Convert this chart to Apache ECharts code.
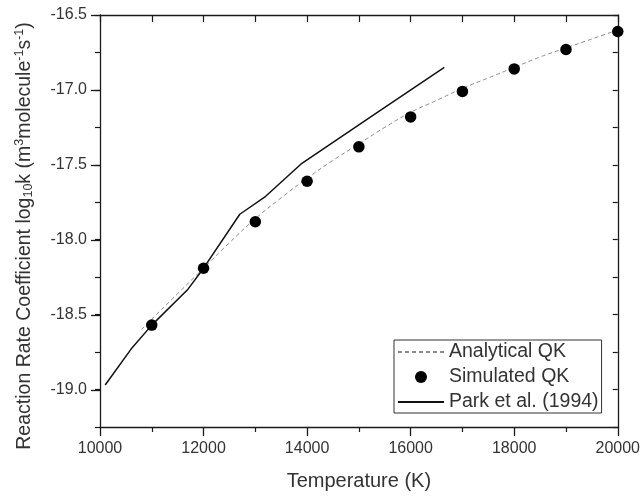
<!DOCTYPE html>
<html><head><meta charset="utf-8">
<script src="https://cdn.jsdelivr.net/npm/echarts@6/dist/echarts.min.js"></script>
<style>html,body{margin:0;padding:0;background:#fff}#c{width:643px;height:496px}</style>
</head><body><div id="c"></div>
<script>
// Simulated QK (points)
const simT = [11000, 12000, 13000, 14000, 15000, 16000, 17000, 18000, 19000, 20000];
const simK = [-18.57, -18.19, -17.88, -17.61, -17.38, -17.18, -17.01, -16.86, -16.73, -16.61];
// Analytical QK (dashed curve)
const anaT = [10800, 11000, 11500, 12000, 12500, 13000, 13500, 14000, 14500, 15000, 15500, 16000, 16500, 17000, 17500, 18000, 18500, 19000, 19500, 20000];
const anaK = [-18.60, -18.53, -18.36, -18.19, -18.02, -17.86, -17.72, -17.59, -17.47, -17.36, -17.25, -17.15, -17.07, -16.99, -16.92, -16.85, -16.78, -16.72, -16.66, -16.60];
// Park et al. (1994) (solid line)
const parkT = [10100, 10600, 11000, 11700, 12000, 12700, 13200, 13900, 15400, 16650];
const parkK = [-18.97, -18.73, -18.57, -18.33, -18.19, -17.83, -17.71, -17.49, -17.14, -16.85];
// Tick labels
const xTicks = [10000, 12000, 14000, 16000, 18000, 20000];
const yTicks = [-19.0, -18.5, -18.0, -17.5, -17.0, -16.5];

const F = '"Liberation Sans", Arial, Helvetica, sans-serif';
const AX = '#1a1a1a';
const TXT = '#333';
const zip = (a, b) => a.map((v, i) => [v, b[i]]);
const noSym = {color: 'rgba(0,0,0,0)', borderWidth: 0, opacity: 0};

const chart = echarts.init(document.getElementById('c'), null, {renderer: 'canvas'});
chart.setOption({
  animation: false,
  backgroundColor: '#fff',
  grid: [
    {left: 100, right: 24, top: 15, height: 412.5},
    {left: 100, right: 24, top: 15, height: 375}
  ],
  xAxis: [
    {
      gridIndex: 0, type: 'value', position: 'bottom',
      min: xTicks[0], max: xTicks[xTicks.length - 1], interval: 2000,
      axisLine: {lineStyle: {color: AX, width: 1.3}},
      axisTick: {length: 9, lineStyle: {color: AX, width: 1.3}},
      minorTick: {show: true, splitNumber: 2, length: 5, lineStyle: {color: AX, width: 1.2}},
      axisLabel: {color: TXT, fontSize: 16, fontFamily: F, margin: 14, formatter: v => String(v)},
      splitLine: {show: false},
      name: 'Temperature (K)', nameLocation: 'middle', nameGap: 44,
      nameTextStyle: {color: TXT, fontSize: 20, fontFamily: F}
    },
    {
      gridIndex: 0, type: 'value', position: 'top',
      min: xTicks[0], max: xTicks[xTicks.length - 1], interval: 1000,
      axisLine: {lineStyle: {color: AX, width: 1.3}},
      axisTick: {inside: true, length: 7, lineStyle: {color: AX, width: 1.2}},
      axisLabel: {show: false}, splitLine: {show: false}
    },
    {gridIndex: 1, type: 'value', min: xTicks[0], max: xTicks[xTicks.length - 1], show: false}
  ],
  yAxis: [
    {
      gridIndex: 0, type: 'value', position: 'left',
      min: -19.25, max: -16.5, interval: 0.25,
      axisLine: {lineStyle: {color: AX, width: 1.3}},
      axisTick: {length: 5, lineStyle: {color: AX, width: 1.2}},
      axisLabel: {
        color: TXT, fontSize: 16, fontFamily: F, margin: 13,
        formatter: v => yTicks.some(t => Math.abs(t - v) < 1e-6) ? v.toFixed(1) : ''
      },
      splitLine: {show: false},
      name: 'Reaction Rate Coefficient log{sub|10}k (m{sup|3}molecule{sup|-1}s{sup|-1})',
      nameLocation: 'middle', nameGap: 64, nameRotate: 90,
      nameTextStyle: {
        color: TXT, fontSize: 19.5, fontFamily: F, padding: [0, 30, 0, 0],
        rich: {
          sup: {fontSize: 12.5, color: TXT, fontFamily: F, padding: [0, 0, 10, 0]},
          sub: {fontSize: 12.5, color: TXT, fontFamily: F, padding: [9, 0, 0, 0]}
        }
      }
    },
    {
      gridIndex: 0, type: 'value', position: 'right',
      min: -19.25, max: -16.5, interval: 0.25,
      axisLine: {show: true, lineStyle: {color: AX, width: 1.3}},
      axisTick: {show: true, inside: true, length: 5, lineStyle: {color: AX, width: 1.2}},
      axisLabel: {show: false}, splitLine: {show: false}
    },
    {
      gridIndex: 1, type: 'value', position: 'left',
      min: yTicks[0], max: yTicks[yTicks.length - 1], interval: 0.5,
      axisLine: {show: false},
      axisTick: {show: true, length: 9, lineStyle: {color: AX, width: 1.3}},
      axisLabel: {show: false}, splitLine: {show: false}
    }
  ],
  legend: {
    orient: 'vertical', left: 394, top: 340,
    itemWidth: 46, itemHeight: 12, itemGap: 5,
    padding: [2, 3, 1, 3],
    borderColor: '#333', borderWidth: 1, backgroundColor: '#fff',
    textStyle: {color: TXT, fontSize: 19.5, fontFamily: F, lineHeight: 20},
    data: [
      {name: 'Analytical QK', itemStyle: noSym},
      {name: 'Simulated QK'},
      {name: 'Park et al. (1994)', itemStyle: noSym}
    ]
  },
  series: [
    {
      name: 'Analytical QK', type: 'line', xAxisIndex: 0, yAxisIndex: 0,
      data: zip(anaT, anaK), symbol: 'none', smooth: true,
      lineStyle: {color: '#8a8a8a', width: 1, type: [4, 3]},
      itemStyle: {color: '#8a8a8a'}, z: 2
    },
    {
      name: 'Simulated QK', type: 'scatter', xAxisIndex: 0, yAxisIndex: 0,
      data: zip(simT, simK), symbol: 'circle', symbolSize: 11.5,
      itemStyle: {color: '#000', opacity: 1}, clip: false, z: 4
    },
    {
      name: 'Park et al. (1994)', type: 'line', xAxisIndex: 0, yAxisIndex: 0,
      data: zip(parkT, parkK), symbol: 'none',
      lineStyle: {color: '#111', width: 1.5},
      itemStyle: {color: '#111'}, z: 3
    }
  ]
});
</script></body></html>
